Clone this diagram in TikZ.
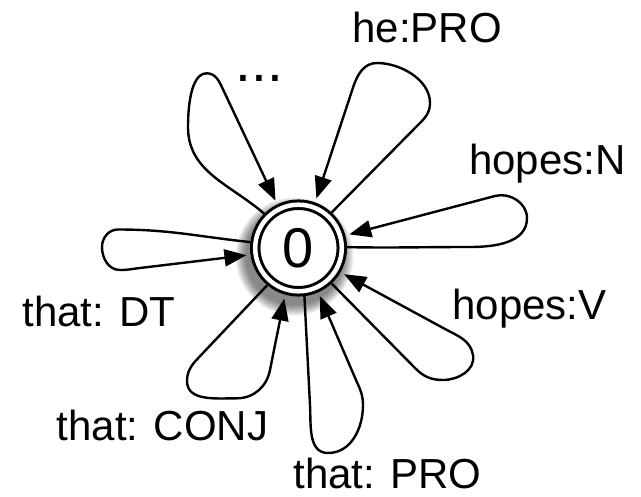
\documentclass[tikz,border=0pt]{standalone}
\usepackage{fontspec}
\setmainfont{Liberation Sans}
\usetikzlibrary{arrows.meta}
\begin{document}
\begin{tikzpicture}[x=1pt,y=1pt,
  lbl/.style={font=\fontsize{42}{45}\selectfont, inner sep=0pt, anchor=base},
  biglbl/.style={font=\fontsize{57}{57}\selectfont, inner sep=0pt, anchor=base},
  loopline/.style={line width=2.4pt, -{Triangle[length=22pt,width=17pt]}, shorten >=4pt, line join=round},
  state/.style={circle, draw, double=white, fill=white, line width=3pt, double distance=4.5pt,
    minimum size=86.6pt, inner sep=0pt, outer sep=5.25pt, font=\fontsize{56}{56}\selectfont},
]
\useasboundingbox (0,0) rectangle (641,-497);
% soft shadow
\foreach \r in {49,...,59} \fill[black, opacity=0.055] (294.5,-256.5) circle (\r);
\node[state] (s) at (298.5,-248) {0};
% loops
\draw[loopline] (s.135) to[out=139,in=-90] (188,-127) to[out=90,in=180,looseness=0.75] (206.7,-73.3) to[out=0,in=115] (223.3,-90) -- (s.116);
\draw[loopline] (s.47) -- (418,-125) to[out=44,in=-90] (430,-103) to[out=90,in=0,looseness=0.9] (377,-63) to[out=180,in=71] (353.3,-86.7) -- (s.70);
\draw[loopline] (s.1) to[out=-1,in=180] (470,-247) to[out=0,in=-90] (527,-218) to[out=90,in=15] (495,-196) -- (s.15);
\draw[loopline] (s.-47) -- (415,-368) to[out=-46,in=180] (443,-380) to[out=0,in=-80] (473,-355) to[out=100,in=-28] (445,-329) -- (s.-30);
\draw[loopline] (s.-83) -- (310,-405) to[out=-87,in=180] (328,-453) to[out=0,in=-90] (363,-405) to[out=90,in=-66] (356,-380) -- (s.-66);
\draw[loopline] (s.230) -- (203,-353) to[out=227,in=90] (187,-381) to[out=-90,in=180] (236.7,-398.3) to[out=0,in=259] (270,-370) -- (s.254);
\draw[loopline] (s.173) to[out=174,in=0] (118,-229.5) to[out=180,in=90] (102,-247) to[out=-90,in=180] (120,-270) to[out=0,in=187] (140,-268) -- (s.188);
% labels
\node[biglbl] (ldots) at (259.7,-81.7) {...};
\node[lbl] (lhe) at (427,-43) {he:PRO};
\node[lbl] (lhn) at (547.5,-175) {hopes:N};
\node[lbl] (lhv) at (529.5,-320) {hopes:V};
\node[lbl] (lpro) at (387.5,-488.3) {that: PRO};
\node[lbl] (lconj) at (162.5,-441) {that: CONJ};
\node[lbl] (ldt) at (99,-327) {that: DT};
\end{tikzpicture}
\end{document}
